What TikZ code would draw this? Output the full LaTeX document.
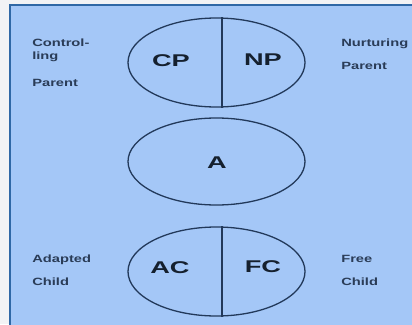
\documentclass[tikz,border=0pt]{standalone}
\usepackage{fontspec}
\setmainfont{Liberation Sans}
\usetikzlibrary{shapes.geometric,calc}
\definecolor{pagebg}{HTML}{F2F3F5}
\definecolor{panelfill}{HTML}{A4C7F7}
\definecolor{panelrule}{HTML}{2F68A6}
\definecolor{ringline}{HTML}{22395A}
\definecolor{bigink}{HTML}{15202E}
\definecolor{smallink}{HTML}{2A3C57}
\tikzset{
  ring/.style={ellipse, draw=ringline, line width=1.3pt, minimum width=177pt, inner sep=0pt},
  divider/.style={draw=ringline, line width=1.3pt},
  statelabel/.style={font=\fontsize{17}{17}\selectfont\bfseries, text=bigink, xscale=1.6, inner sep=0pt},
  sidenote/.style={font=\fontsize{10.5}{10.5}\selectfont\bfseries, text=smallink, xscale=1.4, inner sep=0pt, anchor=base west}
}
\begin{document}
\begin{tikzpicture}[x=1pt,y=-1pt]
  \useasboundingbox (0,0) rectangle (412,324);
  \clip (0,0) rectangle (412,324);
  \fill[pagebg] (0,0) rectangle (412,324);
  % blue panel, running off the right and bottom edges
  \draw[fill=panelfill, draw=panelrule, line width=2pt] (10,5) rectangle (430,340);

  % the three ego-state ellipses
  \node[ring, minimum height=89pt] (parent) at (216.5,62.5) {};
  \node[ring, minimum height=87pt] (adult) at (216.5,161.5) {};
  \node[ring, minimum height=89pt] (child) at (216.5,271.5) {};

  % split lines of the parent and child ellipses
  \coordinate (ptop) at ($(parent.north)+(5.5,0)$);
  \coordinate (pbot) at ($(parent.south)+(5.5,0)$);
  \coordinate (ctop) at ($(child.north)+(5.5,0)$);
  \coordinate (cbot) at ($(child.south)+(5.5,0)$);
  \draw[divider] (ptop) -- (pbot);
  \draw[divider] (ctop) -- (cbot);

  % ego-state abbreviations
  \node[statelabel] (cp) at (171,61) {CP};
  \node[statelabel] (np) at (263,60) {NP};
  \node[statelabel] (a)  at (217,163) {A};
  \node[statelabel] (ac) at (170,267.5) {AC};
  \node[statelabel] (fc) at (263,267) {FC};

  % side descriptions
  \node[sidenote] (ctl1) at (32,46) {Control-};
  \node[sidenote] (ctl2) at (32,59) {ling};
  \node[sidenote] (ctl3) at (32,86) {Parent};
  \node[sidenote] (nur1) at (341,46) {Nurturing};
  \node[sidenote] (nur2) at (341,69) {Parent};
  \node[sidenote] (ada1) at (32,262) {Adapted};
  \node[sidenote] (ada2) at (32,285) {Child};
  \node[sidenote] (fre1) at (341,262) {Free};
  \node[sidenote] (fre2) at (341,285) {Child};
\end{tikzpicture}
\end{document}
